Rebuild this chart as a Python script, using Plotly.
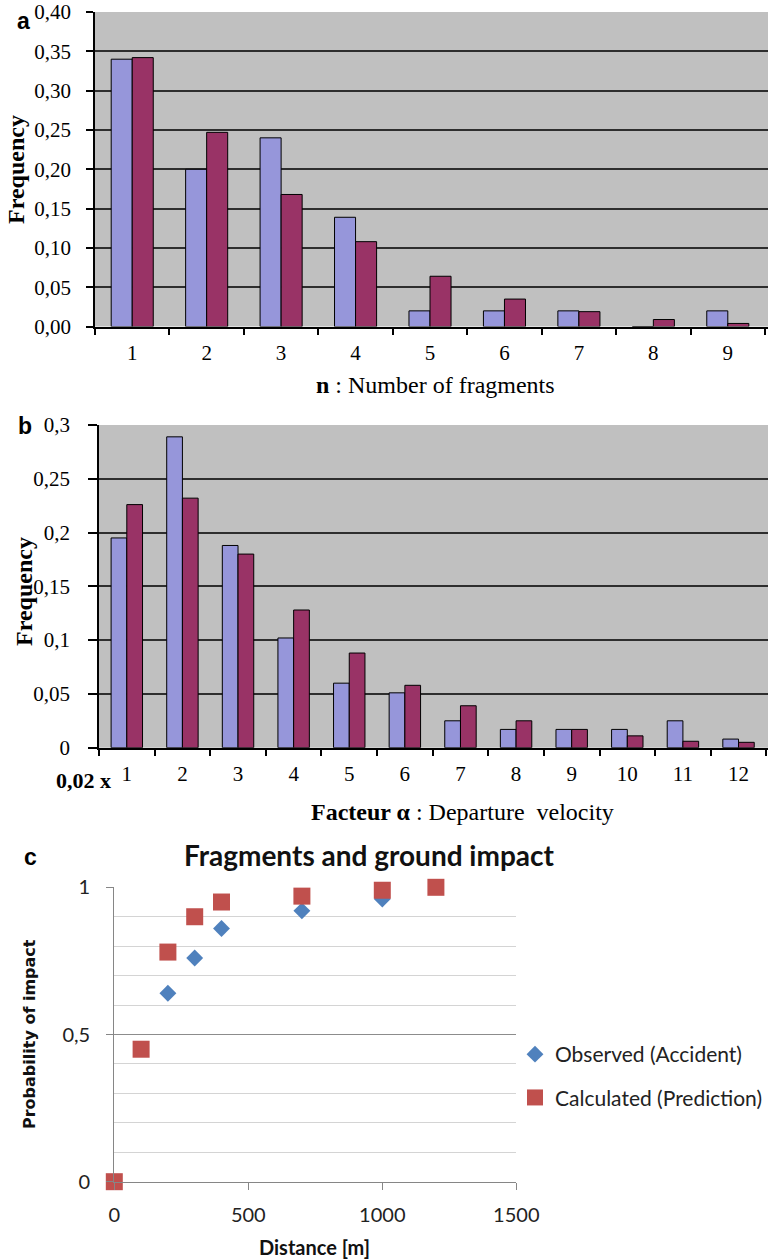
import plotly.graph_objects as go

W, H = 768, 1259

# ---------------- Data ----------------
# Panel a: number of fragments
frag_n = ["1", "2", "3", "4", "5", "6", "7", "8", "9"]
frag_observed = [0.340, 0.200, 0.240, 0.139, 0.020, 0.020, 0.020, 0.0, 0.020]
frag_calculated = [0.342, 0.247, 0.168, 0.108, 0.064, 0.035, 0.019, 0.009, 0.004]
a_ytick_vals = [0, 0.05, 0.10, 0.15, 0.20, 0.25, 0.30, 0.35, 0.40]
a_ytick_text = ["0,00", "0,05", "0,10", "0,15", "0,20", "0,25", "0,30", "0,35", "0,40"]

# Panel b: departure velocity factor alpha
alpha_cat = ["1", "2", "3", "4", "5", "6", "7", "8", "9", "10", "11", "12"]
alpha_observed = [0.195, 0.289, 0.188, 0.102, 0.060, 0.051, 0.025, 0.017, 0.017, 0.017, 0.025, 0.008]
alpha_calculated = [0.226, 0.232, 0.180, 0.128, 0.088, 0.058, 0.039, 0.025, 0.017, 0.011, 0.006, 0.005]
b_ytick_vals = [0, 0.05, 0.1, 0.15, 0.2, 0.25, 0.3]
b_ytick_text = ["0", "0,05", "0,1", "0,15", "0,2", "0,25", "0,3"]

# Panel c: fragments and ground impact
dist_observed = [200, 300, 400, 700, 1000]
prob_observed = [0.64, 0.76, 0.86, 0.92, 0.96]
dist_calculated = [0, 100, 200, 300, 400, 700, 1000, 1200]
prob_calculated = [0.0, 0.45, 0.78, 0.90, 0.95, 0.97, 0.99, 1.0]
c_ytick_vals = [0, 0.5, 1]
c_ytick_text = ["0", "0,5", "1"]
c_xtick_vals = [0, 500, 1000, 1500]
c_xtick_text = ["0", "500", "1000", "1500"]

# ---------------- Styling ----------------
BLUE_BAR = "#9696DA"
RED_BAR = "#993366"
GRAY_BG = "#C0C0C0"
GRID_DARK = "#2E2E2E"
BLUE_PT = "#4F81BD"
RED_PT = "#C0504D"
SERIF = "Liberation Serif"
SANS = "Liberation Sans"
CAL = "Lato"


def px(x):
    return x / W


def py(y):
    return 1 - y / H


fig = go.Figure()

# Panel a bars
fig.add_trace(go.Bar(x=frag_n, y=frag_observed, marker=dict(color=BLUE_BAR, line=dict(color="black", width=1)),
                     xaxis="x", yaxis="y", showlegend=False))
fig.add_trace(go.Bar(x=frag_n, y=frag_calculated, marker=dict(color=RED_BAR, line=dict(color="black", width=1)),
                     xaxis="x", yaxis="y", showlegend=False))

# Panel b bars
fig.add_trace(go.Bar(x=alpha_cat, y=alpha_observed, marker=dict(color=BLUE_BAR, line=dict(color="black", width=1)),
                     xaxis="x2", yaxis="y2", showlegend=False))
fig.add_trace(go.Bar(x=alpha_cat, y=alpha_calculated, marker=dict(color=RED_BAR, line=dict(color="black", width=1)),
                     xaxis="x2", yaxis="y2", showlegend=False))

# Panel c scatter
fig.add_trace(go.Scatter(x=dist_observed, y=prob_observed, mode="markers", name="Observed (Accident)",
                         marker=dict(symbol="diamond", size=13, color=BLUE_PT),
                         xaxis="x3", yaxis="y3", cliponaxis=False, legendgroup="obs"))
fig.add_trace(go.Scatter(x=dist_calculated, y=prob_calculated, mode="markers", name="Calculated (Prediction)",
                         marker=dict(symbol="square", size=17, color=RED_PT),
                         xaxis="x3", yaxis="y3", cliponaxis=False, legendgroup="calc"))

bar_x_common = dict(type="category", showline=True, linecolor="black", linewidth=1.5,
                    ticks="outside", tickson="boundaries", ticklen=7, tickcolor="black", tickwidth=1.5,
                    showgrid=False, tickfont=dict(family=SERIF, size=21, color="black"),
                    fixedrange=True, automargin=False)
bar_y_common = dict(showline=True, linecolor="black", linewidth=1.5, ticks="outside", tickcolor="black",
                    tickwidth=1.5, showgrid=True, gridcolor=GRID_DARK, gridwidth=1.6, zeroline=False,
                    tickfont=dict(family=SERIF, size=21, color="black"), tickmode="array", automargin=False)

fig.update_layout(
    width=W, height=H, autosize=False,
    margin=dict(l=0, r=0, t=0, b=0, pad=0, autoexpand=False),
    paper_bgcolor="white", plot_bgcolor="white",
    barmode="group", bargap=0.435, bargroupgap=0.0,
    xaxis=dict(bar_x_common, domain=[px(95), 1.0], anchor="y", range=[-0.5, 8.54], ticklabelstandoff=6),
    yaxis=dict(bar_y_common, domain=[py(326.6), py(12)], anchor="x", range=[0, 0.40],
               tickvals=a_ytick_vals, ticktext=a_ytick_text, ticklen=7, ticklabelstandoff=11),
    xaxis2=dict(bar_x_common, domain=[px(99), 1.0], anchor="y2", range=[-0.5, 11.53], ticklabelstandoff=6),
    yaxis2=dict(bar_y_common, domain=[py(747.7), py(425)], anchor="x2", range=[0, 0.30],
                tickvals=b_ytick_vals, ticktext=b_ytick_text, ticklen=9, ticklabelstandoff=14),
    xaxis3=dict(domain=[px(114.3), px(516.3)], anchor="y3", range=[0, 1500], showline=True,
                linecolor="#868686", linewidth=1.2, ticks="outside", ticklen=7, tickcolor="#868686",
                tickmode="array", tickvals=c_xtick_vals, ticktext=c_xtick_text, showgrid=False, zeroline=False,
                tickfont=dict(family=CAL, size=20, color="#222222"), ticklabelstandoff=8, automargin=False),
    yaxis3=dict(domain=[py(1181.7), py(887.3)], anchor="x3", range=[0, 1], showline=True,
                linecolor="#868686", linewidth=1.2, ticks="outside", ticklen=7, tickcolor="#868686",
                tickmode="array", tickvals=c_ytick_vals, ticktext=c_ytick_text, showgrid=True,
                gridcolor="#8C8C8C", gridwidth=1.2, zeroline=False,
                minor=dict(dtick=0.1, showgrid=True, gridcolor="#D4D4D4", gridwidth=1),
                tickfont=dict(family=CAL, size=20, color="#222222"), ticklabelstandoff=12, automargin=False),
    legend=dict(x=px(515), y=py(1034), xanchor="left", yanchor="top", bgcolor="rgba(0,0,0,0)",
                font=dict(family=CAL, size=21, color="#222222"), tracegroupgap=13, itemsizing="trace"),
    shapes=[
        dict(type="rect", xref="x domain", yref="y domain", x0=0, x1=1, y0=0, y1=1,
             fillcolor=GRAY_BG, line=dict(width=0), layer="below"),
        dict(type="rect", xref="x2 domain", yref="y2 domain", x0=0, x1=1, y0=0, y1=1,
             fillcolor=GRAY_BG, line=dict(width=0), layer="below"),
    ],
)

ann = []


def add_text(text, x, y, family, size, angle=0, xanchor="center", color="black"):
    ann.append(dict(text=text, x=px(x), y=py(y), xref="paper", yref="paper", showarrow=False,
                    xanchor=xanchor, yanchor="middle", textangle=angle,
                    font=dict(family=family, size=size, color=color)))


add_text("<b>a</b>", 23, 21, SANS, 23)
add_text("<b>b</b>", 25, 426, SANS, 23)
add_text("<b>c</b>", 30, 857, SANS, 23)
add_text("<b>Frequency</b>", 16, 170, SERIF, 24, angle=-90)
add_text("<b>Frequency</b>", 24, 592, SERIF, 24, angle=-90)
add_text("<b>n</b> : Number of fragments", 435, 385, SERIF, 24)
add_text("<b>0,02 x</b>", 113, 780, SERIF, 22, xanchor="right")
add_text("<b>Facteur \u03b1</b> : Departure\u00a0 velocity", 462, 812, SERIF, 24)
add_text("<b>Fragments and ground impact</b>", 369, 855, CAL, 28, color="#111111")
add_text("<b>Probability of impact</b>", 29.5, 1034.5, "DejaVu Sans", 16, angle=-90, color="#111111")
add_text("<b>Distance [m]</b>", 314, 1247, CAL, 20, color="#111111")

fig.update_layout(annotations=ann)

fig.write_html(
    "out.html",
    config={"displayModeBar": False},
    post_script="document.body.style.margin='0';document.body.style.padding='0';"
                "document.documentElement.style.overflow='hidden';document.body.style.overflow='hidden';",
)
